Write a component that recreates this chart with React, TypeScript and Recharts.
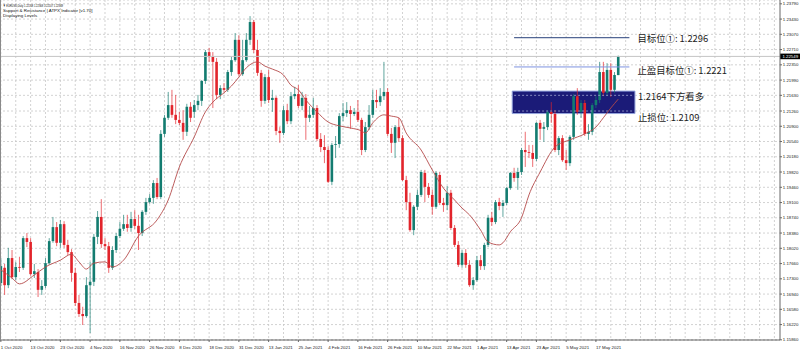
import React from "react";
import {
  ComposedChart,
  Bar,
  Line,
  XAxis,
  YAxis,
  CartesianGrid,
  ReferenceLine,
  ReferenceArea,
} from "recharts";

// ---- candle data (EURUSD Daily, 1 Oct 2020 .. 25 May 2021) ----
const opens = [
  1.1720, 1.1756, 1.1715, 1.1779, 1.1734, 1.1758, 1.1756, 1.1826, 1.1817, 1.1741,
  1.1746, 1.1704, 1.1713, 1.1767, 1.1819, 1.1852, 1.1815, 1.1859, 1.1810, 1.1793,
  1.1744, 1.1673, 1.1647, 1.1642, 1.1715, 1.1723, 1.1829, 1.1876, 1.1812, 1.1807,
  1.1756, 1.1798, 1.1831, 1.1848, 1.1859, 1.1850, 1.1871, 1.1855, 1.1838, 1.1888,
  1.1911, 1.1921, 1.1956, 1.1923, 1.2072, 1.2110, 1.2140, 1.2117, 1.2105, 1.2098,
  1.2077, 1.2136, 1.2124, 1.2140, 1.2150, 1.2197, 1.2265, 1.2254, 1.2242, 1.2164,
  1.2180, 1.2176, 1.2218, 1.2246, 1.2294, 1.2213, 1.2246, 1.2294, 1.2336, 1.2270,
  1.2216, 1.2150, 1.2206, 1.2152, 1.2157, 1.2079, 1.2074, 1.2128, 1.2102, 1.2161,
  1.2166, 1.2138, 1.2157, 1.2110, 1.2117, 1.2133, 1.2060, 1.2041, 1.2034, 1.1959,
  1.2046, 1.2048, 1.2114, 1.2121, 1.2128, 1.2119, 1.2124, 1.2105, 1.2034, 1.2088,
  1.2117, 1.2152, 1.2147, 1.2161, 1.2171, 1.2072, 1.2051, 1.2088, 1.2062, 1.1963,
  1.1911, 1.1845, 1.1900, 1.1928, 1.1980, 1.1947, 1.1928, 1.1900, 1.1975, 1.1909,
  1.1904, 1.1933, 1.1850, 1.1810, 1.1763, 1.1791, 1.1763, 1.1715, 1.1727, 1.1774,
  1.1760, 1.1810, 1.1874, 1.1864, 1.1911, 1.1902, 1.1909, 1.1944, 1.1980, 1.1968,
  1.1982, 1.2034, 1.2029, 1.2027, 1.2013, 1.2098, 1.2084, 1.2088, 1.2124, 1.2119,
  1.2034, 1.2062, 1.2010, 1.2003, 1.2065, 1.2161, 1.2124, 1.2145, 1.2072, 1.2077,
  1.2140, 1.2152, 1.2218, 1.2169, 1.2223, 1.2176, 1.22108,
];
const highs = [
  1.1779, 1.1765, 1.1803, 1.1798, 1.1770, 1.1782, 1.1831, 1.1838, 1.1826, 1.1765,
  1.1753, 1.1727, 1.1779, 1.1826, 1.1876, 1.1864, 1.1869, 1.1866, 1.1822, 1.1800,
  1.1756, 1.1692, 1.1664, 1.1734, 1.1770, 1.1836, 1.1890, 1.1918, 1.1826, 1.1817,
  1.1807, 1.1838, 1.1864, 1.1881, 1.1881, 1.1888, 1.1892, 1.1881, 1.1892, 1.1921,
  1.1930, 1.1963, 1.1968, 1.2081, 1.2117, 1.2171, 1.2176, 1.2164, 1.2124, 1.2128,
  1.2143, 1.2147, 1.2152, 1.2164, 1.2199, 1.2270, 1.2275, 1.2265, 1.2251, 1.2187,
  1.2192, 1.2223, 1.2254, 1.2310, 1.2305, 1.2294, 1.2310, 1.2350, 1.2341, 1.2294,
  1.2223, 1.2213, 1.2223, 1.2176, 1.2161, 1.2088, 1.2138, 1.2143, 1.2171, 1.2183,
  1.2187, 1.2171, 1.2166, 1.2138, 1.2157, 1.2140, 1.2074, 1.2069, 1.2043, 1.2051,
  1.2067, 1.2121, 1.2145, 1.2147, 1.2138, 1.2133, 1.2152, 1.2110, 1.2100, 1.2140,
  1.2176, 1.2176, 1.2180, 1.2242, 1.2180, 1.2086, 1.2093, 1.2110, 1.2069, 1.1973,
  1.1933, 1.1904, 1.1940, 1.1987, 1.1987, 1.1956, 1.1940, 1.1984, 1.1982, 1.1921,
  1.1949, 1.1940, 1.1857, 1.1819, 1.1798, 1.1800, 1.1774, 1.1734, 1.1784, 1.1786,
  1.1815, 1.1881, 1.1888, 1.1916, 1.1921, 1.1916, 1.1947, 1.1982, 1.1992, 1.1992,
  1.2039, 1.2077, 1.2046, 1.2046, 1.2100, 1.2105, 1.2100, 1.2128, 1.2147, 1.2128,
  1.2067, 1.2069, 1.2034, 1.2069, 1.2166, 1.2180, 1.2152, 1.2152, 1.2095, 1.2145,
  1.2161, 1.2242, 1.2242, 1.2239, 1.2239, 1.2218, 1.22568,
];
const lows = [
  1.1713, 1.1692, 1.1708, 1.1730, 1.1727, 1.1746, 1.1751, 1.1805, 1.1737, 1.1732,
  1.1687, 1.1692, 1.1708, 1.1763, 1.1815, 1.1807, 1.1803, 1.1803, 1.1786, 1.1723,
  1.1666, 1.1640, 1.1621, 1.1638, 1.1602, 1.1713, 1.1812, 1.1803, 1.1798, 1.1744,
  1.1751, 1.1791, 1.1826, 1.1843, 1.1841, 1.1841, 1.1848, 1.1798, 1.1831, 1.1881,
  1.1907, 1.1907, 1.1918, 1.1918, 1.2065, 1.2105, 1.2110, 1.2095, 1.2093, 1.2058,
  1.2067, 1.2100, 1.2110, 1.2128, 1.2138, 1.2190, 1.2242, 1.2133, 1.2154, 1.2154,
  1.2171, 1.2171, 1.2209, 1.2242, 1.2209, 1.2209, 1.2242, 1.2282, 1.2263, 1.2209,
  1.2136, 1.2143, 1.2145, 1.2124, 1.2069, 1.2051, 1.2069, 1.2095, 1.2095, 1.2154,
  1.2133, 1.2128, 1.2058, 1.2100, 1.2110, 1.2055, 1.2029, 1.2003, 1.1956, 1.1951,
  1.2015, 1.2039, 1.2102, 1.2112, 1.2084, 1.2114, 1.2100, 1.2022, 1.2029, 1.2081,
  1.2110, 1.2133, 1.2138, 1.2152, 1.2067, 1.2027, 1.2015, 1.2053, 1.1961, 1.1892,
  1.1841, 1.1833, 1.1892, 1.1923, 1.1911, 1.1921, 1.1881, 1.1895, 1.1904, 1.1888,
  1.1892, 1.1845, 1.1805, 1.1758, 1.1756, 1.1756, 1.1711, 1.1704, 1.1723, 1.1751,
  1.1751, 1.1805, 1.1855, 1.1859, 1.1892, 1.1876, 1.1904, 1.1940, 1.1959, 1.1940,
  1.1975, 1.1994, 1.2015, 1.1994, 1.2008, 1.2058, 1.2053, 1.2081, 1.2098, 1.2029,
  1.2022, 1.2006, 1.1987, 1.1996, 1.2058, 1.2117, 1.2110, 1.2067, 1.2058, 1.2069,
  1.2133, 1.2145, 1.2161, 1.2161, 1.2159, 1.2169, 1.22107,
];
const closes = [
  1.1760, 1.1715, 1.1779, 1.1734, 1.1758, 1.1756, 1.1826, 1.1817, 1.1741, 1.1748,
  1.1704, 1.1713, 1.1767, 1.1819, 1.1852, 1.1815, 1.1859, 1.1810, 1.1793, 1.1744,
  1.1673, 1.1647, 1.1642, 1.1715, 1.1723, 1.1829, 1.1876, 1.1812, 1.1807, 1.1756,
  1.1798, 1.1831, 1.1848, 1.1859, 1.1850, 1.1871, 1.1855, 1.1838, 1.1888, 1.1911,
  1.1921, 1.1956, 1.1923, 1.2072, 1.2110, 1.2140, 1.2117, 1.2105, 1.2098, 1.2077,
  1.2136, 1.2110, 1.2140, 1.2150, 1.2197, 1.2265, 1.2254, 1.2242, 1.2164, 1.2180,
  1.2176, 1.2218, 1.2246, 1.2294, 1.2213, 1.2246, 1.2294, 1.2336, 1.2270, 1.2216,
  1.2150, 1.2206, 1.2152, 1.2157, 1.2079, 1.2074, 1.2128, 1.2102, 1.2161, 1.2166,
  1.2138, 1.2157, 1.2110, 1.2117, 1.2133, 1.2060, 1.2041, 1.2034, 1.1959, 1.2046,
  1.2048, 1.2114, 1.2121, 1.2128, 1.2119, 1.2124, 1.2105, 1.2034, 1.2088, 1.2117,
  1.2152, 1.2147, 1.2161, 1.2171, 1.2072, 1.2051, 1.2088, 1.2062, 1.1963, 1.1911,
  1.1845, 1.1900, 1.1928, 1.1982, 1.1947, 1.1928, 1.1900, 1.1980, 1.1909, 1.1904,
  1.1933, 1.1850, 1.1810, 1.1763, 1.1791, 1.1763, 1.1715, 1.1727, 1.1774, 1.1760,
  1.1810, 1.1874, 1.1864, 1.1911, 1.1902, 1.1909, 1.1944, 1.1980, 1.1968, 1.1982,
  1.2034, 1.2029, 1.2027, 1.2013, 1.2098, 1.2084, 1.2088, 1.2124, 1.2119, 1.2034,
  1.2062, 1.2010, 1.2003, 1.2065, 1.2161, 1.2124, 1.2145, 1.2072, 1.2077, 1.2140,
  1.2152, 1.2218, 1.2169, 1.2223, 1.2176, 1.2211, 1.22549,
];

// moving average line, read at sample bars
const maIdx = [
  0, 3, 5, 9, 12, 16, 19, 21, 23, 25, 28, 30, 33, 37, 42, 45, 48, 52, 55, 57,
  60, 62, 64, 66, 69, 71, 73, 76, 78, 80, 82, 85, 88, 91, 94, 97, 98, 100, 103, 105,
  107, 109, 113, 116, 119, 122, 124, 126, 129, 131, 134, 135, 137, 140, 142, 145, 149, 153, 157, 160,
  162, 164, 166,
];
const maVal = [
  1.1751, 1.1732, 1.1718, 1.1739, 1.1758, 1.1774, 1.1788, 1.1770, 1.1753, 1.1767,
  1.1770, 1.1758, 1.1774, 1.1831, 1.1869, 1.1916, 1.1994, 1.2065, 1.2124, 1.2147,
  1.2169, 1.2185, 1.2206, 1.2228, 1.2242, 1.2232, 1.2225, 1.2211, 1.2187, 1.2176,
  1.2152, 1.2124, 1.2100, 1.2091, 1.2086, 1.2079, 1.2074, 1.2098, 1.2117, 1.2114,
  1.2110, 1.2074, 1.2034, 1.1987, 1.1944, 1.1916, 1.1897, 1.1881, 1.1845, 1.1817,
  1.1810, 1.1815, 1.1841, 1.1874, 1.1928, 1.1982, 1.2041, 1.2058, 1.2072, 1.2088,
  1.2110, 1.2133, 1.2154,
];

// axes
const xTickIdx = [0, 8, 16, 24, 32, 40, 48, 56, 64, 72, 80, 88, 96, 104, 112, 120, 128, 136, 144, 152, 160];
const xTickLabels = [
  "1 Oct 2020", "13 Oct 2020", "23 Oct 2020", "4 Nov 2020", "16 Nov 2020", "26 Nov 2020",
  "8 Dec 2020", "18 Dec 2020", "31 Dec 2020", "13 Jan 2021", "25 Jan 2021", "4 Feb 2021",
  "16 Feb 2021", "26 Feb 2021", "10 Mar 2021", "22 Mar 2021", "1 Apr 2021", "13 Apr 2021",
  "23 Apr 2021", "5 May 2021", "17 May 2021",
];
const yTicks = [
  1.2379, 1.2343, 1.2307, 1.2271, 1.2235, 1.2199, 1.2163, 1.2126, 1.209, 1.2054,
  1.2018, 1.1982, 1.1946, 1.191, 1.1874, 1.1838, 1.1802, 1.1766, 1.173, 1.1694,
  1.1658, 1.1622, 1.1586,
];
const yDomain = [1.15856, 1.2388];
const TOTAL_SLOTS = 210;
const GRID_EVERY = 4;

// annotations
const lastPrice = 1.22549;
const targetLevel = 1.2299;
const tpLevel = 1.223;
const zoneTop = 1.2173;
const zoneBottom = 1.212;
const annoStart = 138;
const annoLineEnd = 169;
const zoneEnd = 170;
const targetText = "目标位①: 1.2296";
const tpText = "止盈目标位①: 1.2221";
const zoneText = "1.2164下方看多";
const stopText = "止损位: 1.2109";
const headerLines = [
  "▼ EURUSD,Daily  1.22108 1.22568 1.22107 1.22549",
  "Support & Resistance | ATPX Indicator [v1.70]",
  "Displaying Levels",
];

const BULL = "#137c70";
const BEAR = "#e2242b";
const AXIS_FONT = "'Liberation Sans', Arial, sans-serif";
const CJK_FONT = "'Noto Sans CJK SC', 'Noto Sans', sans-serif";

const maMap: Record<number, number> = {};
maIdx.forEach((k, j) => (maMap[k] = maVal[j]));

const data = Array.from({ length: TOTAL_SLOTS }, (_, i) => {
  const has = i < opens.length;
  return {
    i,
    range: has ? [lows[i], highs[i]] : null,
    o: has ? opens[i] : null,
    h: has ? highs[i] : null,
    l: has ? lows[i] : null,
    c: has ? closes[i] : null,
    ma: maMap[i] !== undefined ? maMap[i] : null,
  };
});

const gridIdx = Array.from({ length: Math.ceil(TOTAL_SLOTS / GRID_EVERY) }, (_, k) => k * GRID_EVERY);

function Candle(props: any) {
  const { x, y, width, height, payload } = props;
  if (!payload || payload.o == null || x == null) return null;
  const top = Math.min(y, y + height);
  const bot = Math.max(y, y + height);
  const span = payload.h - payload.l;
  const k = span > 0 ? (bot - top) / span : 0;
  const yOf = (v: number) => top + (payload.h - v) * k;
  const cx = x + width / 2;
  const up = payload.c >= payload.o;
  const color = up ? BULL : BEAR;
  const yO = yOf(payload.o);
  const yC = yOf(payload.c);
  const bTop = Math.min(yO, yC);
  const bH = Math.max(Math.abs(yO - yC), 0.8);
  return (
    <g>
      <line x1={cx} x2={cx} y1={top} y2={bot} stroke={color} strokeWidth={0.9} strokeOpacity={0.75} />
      <rect x={cx - 1.3} y={bTop} width={2.6} height={bH} fill={color} />
    </g>
  );
}

function XTick(props: any) {
  const { x, y, payload } = props;
  const idx = xTickIdx.indexOf(payload.value);
  return (
    <text x={x} y={y + 4.5} fontSize={4.4} fontFamily={AXIS_FONT} fill="#222" textAnchor="start">
      {idx >= 0 ? xTickLabels[idx] : ""}
    </text>
  );
}

function YTick(props: any) {
  const { y, payload } = props;
  return (
    <text x={782.8} y={y + 1.6} fontSize={4.3} fontFamily={AXIS_FONT} fill="#222" textAnchor="start">
      {Number(payload.value).toFixed(5)}
    </text>
  );
}

const vGen = (p: any) => {
  const s = p && p.xAxis && p.xAxis.scale;
  if (s && typeof s === "function") {
    const bw = typeof s.bandwidth === "function" ? s.bandwidth() : 0;
    return gridIdx.map((i) => s(i) + bw / 2);
  }
  const off = p.offset;
  const w = off.width / TOTAL_SLOTS;
  return gridIdx.map((i) => off.left + (i + 0.5) * w);
};

const rightText = (text: string, dx: number, dy: number) => (lp: any) => {
  const vb = lp.viewBox || {};
  const xr = (vb.x || 0) + (vb.width || 0);
  return (
    <text x={xr + dx} y={(vb.y || 0) + dy} fontSize={9.4} fontFamily={CJK_FONT} fill="#1a1a1a">
      {text}
    </text>
  );
};

const zoneLabel = (lp: any) => {
  const vb = lp.viewBox || {};
  const xr = vb.x + vb.width;
  return (
    <g>
      <text x={xr + 3} y={vb.y + 8.5} fontSize={9.4} fontFamily={CJK_FONT} fill="#1a1a1a">
        {zoneText}
      </text>
      <text x={xr + 3} y={vb.y + vb.height + 7.2} fontSize={9.4} fontFamily={CJK_FONT} fill="#1a1a1a">
        {stopText}
      </text>
    </g>
  );
};

const priceTag = (lp: any) => {
  const vb = lp.viewBox || {};
  const xr = vb.x + vb.width;
  return (
    <g>
      <rect x={xr} y={vb.y - 2.8} width={20} height={5.6} fill="#000" />
      <text x={xr + 2.5} y={vb.y + 1.6} fontSize={4.3} fontFamily={AXIS_FONT} fill="#fff">
        {lastPrice.toFixed(5)}
      </text>
    </g>
  );
};

const zoneGridTicks = yTicks.filter((t) => t > zoneBottom && t < zoneTop);

export default function App() {
  return (
    <div style={{ position: "absolute", left: 0, top: 0, width: 800, height: 351, background: "#fff" }}>
      <ComposedChart
        width={800}
        height={351}
        data={data}
        margin={{ top: 0, right: 0, bottom: 0, left: -1 }}
      >
        <CartesianGrid
          stroke="#c6c6c6"
          strokeDasharray="2 2"
          strokeWidth={0.8}
          verticalCoordinatesGenerator={vGen}
        />
        <XAxis
          dataKey="i"
          type="category"
          ticks={xTickIdx}
          interval={0}
          tick={<XTick />}
          tickSize={2}
          tickLine={{ stroke: "#666" }}
          axisLine={{ stroke: "#666" }}
          height={11}
        />
        <YAxis
          orientation="right"
          type="number"
          domain={yDomain}
          allowDataOverflow
          ticks={yTicks}
          interval={0}
          tick={<YTick />}
          tickSize={2}
          tickLine={{ stroke: "#666" }}
          axisLine={{ stroke: "#666" }}
          width={20}
        />
        <ReferenceLine y={lastPrice} stroke="#c4c4c4" strokeWidth={1} label={priceTag} />
        <ReferenceArea
          x1={annoStart}
          x2={zoneEnd}
          y1={zoneBottom}
          y2={zoneTop}
          fill="#1b1b78"
          fillOpacity={1}
          stroke="#93a3dc"
          strokeWidth={1}
          label={zoneLabel}
        />
        {zoneGridTicks.map((t) => (
          <ReferenceLine
            key={t}
            segment={[
              { x: annoStart, y: t },
              { x: zoneEnd, y: t },
            ]}
            stroke="#9da3cf"
            strokeDasharray="2 2"
            strokeWidth={0.8}
          />
        ))}
        <ReferenceLine
          segment={[
            { x: annoStart, y: targetLevel },
            { x: annoLineEnd, y: targetLevel },
          ]}
          stroke="#27407a"
          strokeWidth={1}
          label={rightText(targetText, 8, 4)}
        />
        <ReferenceLine
          segment={[
            { x: annoStart, y: tpLevel },
            { x: annoLineEnd, y: tpLevel },
          ]}
          stroke="#7d92e0"
          strokeWidth={1}
          label={rightText(tpText, 8, 7.5)}
        />
        <Bar dataKey="range" shape={<Candle />} isAnimationActive={false} />
        <Line
          dataKey="ma"
          type="monotone"
          stroke="#b44b4b"
          strokeWidth={0.9}
          dot={false}
          connectNulls
          isAnimationActive={false}
        />
      </ComposedChart>
      <div style={{ position: "absolute", left: 0, top: 0, width: 1, height: 340, background: "#8a8a8a" }} />
      <svg
        width={200}
        height={20}
        style={{ position: "absolute", left: 0, top: 0, pointerEvents: "none" }}
      >
        <text x={3} y={6.5} fontSize={4.4} fontFamily={AXIS_FONT} fill="#111" textLength={60} lengthAdjust="spacingAndGlyphs">
          {headerLines[0]}
        </text>
        <text x={3} y={11.8} fontSize={4.4} fontFamily={AXIS_FONT} fill="#111">
          {headerLines[1]}
        </text>
        <text x={3} y={17} fontSize={4.4} fontFamily={AXIS_FONT} fill="#111">
          {headerLines[2]}
        </text>
      </svg>
    </div>
  );
}
